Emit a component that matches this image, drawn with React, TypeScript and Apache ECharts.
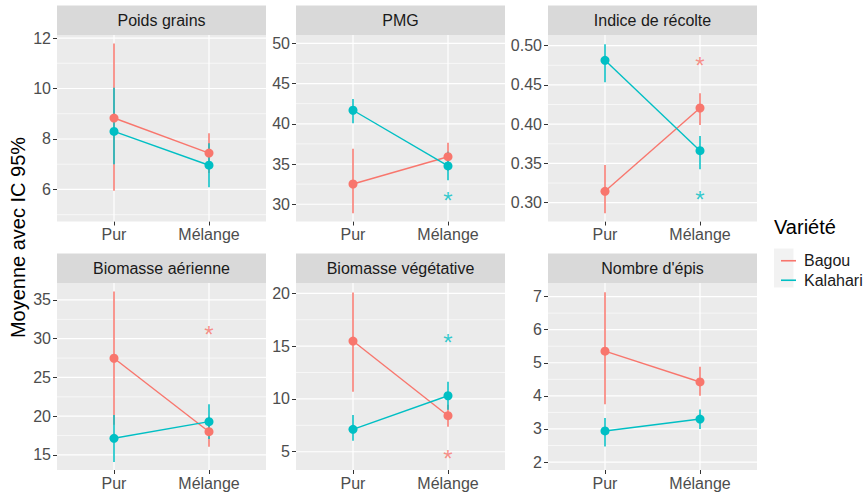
import React, { useEffect, useRef } from 'react';
import * as echarts from 'echarts';

// ---------- data ----------
const panelTitles = ['Poids grains', 'PMG', 'Indice de récolte', 'Biomasse aérienne', 'Biomasse végétative', "Nombre d'épis"];
const categories = ['Pur', 'Mélange'];
const varieties = ['Bagou', 'Kalahari'];
const varietyColors = ['#F8766D', '#00BFC4'];

// means [panel][category]
const bagouMean = [[8.83, 7.44], [32.52, 35.91], [0.3145, 0.4206], [27.48, 18.0], [15.48, 8.41], [5.35, 4.42]];
const bagouLow = [[5.95, 6.65], [28.88, 34.17], [0.2865, 0.399], [18.9, 16.07], [10.69, 7.37], [3.75, 4.0]];
const bagouHigh = [[11.78, 8.23], [36.9, 37.65], [0.348, 0.4394], [36.08, 19.93], [20.07, 9.45], [7.13, 4.88]];
const kalahariMean = [[8.3, 6.96], [41.68, 34.76], [0.4814, 0.3662], [17.15, 19.3], [7.12, 10.3], [2.94, 3.3]];
const kalahariLow = [[7.0, 6.09], [40.06, 33.0], [0.4534, 0.3425], [14.1, 17.06], [6.04, 8.97], [2.47, 3.0]];
const kalahariHigh = [[10.03, 7.83], [43.08, 36.52], [0.5018, 0.385], [20.16, 21.54], [8.47, 11.63], [3.33, 3.59]];

// significance stars
const starPanel = [1, 2, 2, 3, 4, 4];
const starVariety = ['Kalahari', 'Bagou', 'Kalahari', 'Bagou', 'Kalahari', 'Bagou'];
const starCategory = ['Mélange', 'Mélange', 'Mélange', 'Mélange', 'Mélange', 'Mélange'];
const starValue = [30.82, 0.479, 0.3076, 30.9, 15.64, 4.69];

// axes
const yMin = [4.73, 27.86, 0.276, 13.06, 3.27, 1.76];
const yMax = [12.12, 51.03, 0.5136, 37.19, 20.98, 7.41];
const yTicks = [
  [6, 8, 10, 12],
  [30, 35, 40, 45, 50],
  [0.3, 0.35, 0.4, 0.45, 0.5],
  [15, 20, 25, 30, 35],
  [5, 10, 15, 20],
  [2, 3, 4, 5, 6, 7],
];
const yTickDecimals = [0, 0, 2, 0, 0, 0];
const xMin = 0.4;
const xMax = 2.6;

const legendTitle = 'Variété';
const yTitle = 'Moyenne avec IC 95%';

// ---------- layout ----------
const FONT = '"Liberation Sans", Arial, Helvetica, sans-serif';
const panelLefts = [57, 296, 548];
const panelTops = [35, 283];
const panelHeights = [186.5, 187];
const panelWidth = 209;
const stripH = 29.5;

const means = [bagouMean, kalahariMean];
const lows = [bagouLow, kalahariLow];
const highs = [bagouHigh, kalahariHigh];

function minorTicks(ticks: number[], min: number, max: number) {
  const out: number[] = [];
  const step = ticks[1] - ticks[0];
  if (ticks[0] - step / 2 >= min) out.push(ticks[0] - step / 2);
  for (let k = 0; k < ticks.length - 1; k++) out.push((ticks[k] + ticks[k + 1]) / 2);
  if (ticks[ticks.length - 1] + step / 2 <= max) out.push(ticks[ticks.length - 1] + step / 2);
  return out;
}

function hLine(width: number) {
  return (params: any, api: any) => {
    const cs = params.coordSys;
    const y = api.coord([1, api.value(0)])[1];
    return {
      type: 'line',
      silent: true,
      shape: { x1: cs.x, y1: y, x2: cs.x + cs.width, y2: y },
      style: { stroke: '#FFFFFF', lineWidth: width },
    };
  };
}

function vLine(width: number, yLo: number) {
  return (params: any, api: any) => {
    const cs = params.coordSys;
    const x = api.coord([api.value(0), yLo])[0];
    return {
      type: 'line',
      silent: true,
      shape: { x1: x, y1: cs.y, x2: x, y2: cs.y + cs.height },
      style: { stroke: '#FFFFFF', lineWidth: width },
    };
  };
}

function errBar(color: string) {
  return (params: any, api: any) => {
    const x = api.value(0);
    const a = api.coord([x, api.value(1)]);
    const b = api.coord([x, api.value(2)]);
    return {
      type: 'line',
      shape: { x1: a[0], y1: a[1], x2: b[0], y2: b[1] },
      style: { stroke: color, lineWidth: 1.5 },
    };
  };
}

function buildOption() {
  const grid: any[] = [];
  const xAxis: any[] = [];
  const yAxis: any[] = [];
  const series: any[] = [];
  const graphic: any[] = [];

  panelTitles.forEach((title, i) => {
    const col = i % 3;
    const row = Math.floor(i / 3);
    const left = panelLefts[col];
    const top = panelTops[row];
    grid.push({
      left, top, width: panelWidth, height: panelHeights[row],
      show: true, backgroundColor: '#EBEBEB', borderWidth: 0,
    });
    xAxis.push({
      type: 'value', gridIndex: i, min: xMin, max: xMax,
      axisLine: { show: false },
      splitLine: { show: false },
      axisTick: { show: true, length: 4, customValues: categories.map((_, k) => k + 1), lineStyle: { color: '#333333', width: 1 } },
      axisLabel: {
        customValues: categories.map((_, k) => k + 1),
        formatter: (v: number) => categories[Math.round(v) - 1] ?? '',
        color: '#4D4D4D', fontSize: 16, fontFamily: FONT, margin: 5,
      },
    });
    yAxis.push({
      type: 'value', gridIndex: i, min: yMin[i], max: yMax[i],
      axisLine: { show: false },
      splitLine: { show: false },
      axisTick: { show: true, length: 4, customValues: yTicks[i], lineStyle: { color: '#333333', width: 1 } },
      axisLabel: {
        customValues: yTicks[i],
        formatter: (v: number) => v.toFixed(yTickDecimals[i]),
        color: '#4D4D4D', fontSize: 16, fontFamily: FONT, margin: 6,
      },
    });

    // grid lines
    series.push({
      type: 'custom', xAxisIndex: i, yAxisIndex: i, silent: true, z: 1,
      data: minorTicks(yTicks[i], yMin[i], yMax[i]).map((v) => [v]),
      renderItem: hLine(0.6),
    });
    series.push({
      type: 'custom', xAxisIndex: i, yAxisIndex: i, silent: true, z: 1,
      data: yTicks[i].map((v) => [v]),
      renderItem: hLine(1.2),
    });
    series.push({
      type: 'custom', xAxisIndex: i, yAxisIndex: i, silent: true, z: 1,
      data: categories.map((_, k) => [k + 1]),
      renderItem: vLine(1.2, yMin[i]),
    });

    // error bars
    varieties.forEach((v, vi) => {
      series.push({
        type: 'custom', name: v + ' IC', xAxisIndex: i, yAxisIndex: i, z: 2,
        data: categories.map((_, k) => [k + 1, lows[vi][i][k], highs[vi][i][k]]),
        renderItem: errBar(varietyColors[vi]),
      });
    });
    // lines
    varieties.forEach((v, vi) => {
      series.push({
        type: 'line', name: v, xAxisIndex: i, yAxisIndex: i, z: 3,
        color: varietyColors[vi],
        showSymbol: false, symbol: 'none',
        lineStyle: { color: varietyColors[vi], width: 1.4 },
        data: categories.map((_, k) => [k + 1, means[vi][i][k]]),
      });
    });
    // points
    varieties.forEach((v, vi) => {
      series.push({
        type: 'scatter', name: v + ' moyenne', xAxisIndex: i, yAxisIndex: i, z: 4,
        symbol: 'circle', symbolSize: 9,
        itemStyle: { color: varietyColors[vi], opacity: 1 },
        data: categories.map((_, k) => [k + 1, means[vi][i][k]]),
      });
    });
    // stars
    const starIdx = starPanel.map((p, s) => (p === i ? s : -1)).filter((s) => s >= 0);
    starIdx.forEach((s) => {
      const vi = varieties.indexOf(starVariety[s]);
      series.push({
        type: 'scatter', name: 'signif', xAxisIndex: i, yAxisIndex: i, z: 4,
        symbol: 'circle', symbolSize: 1,
        itemStyle: { color: 'rgba(0,0,0,0)' },
        label: {
          show: true, position: 'inside', formatter: '*',
          fontSize: 24, fontFamily: FONT, color: varietyColors[vi], offset: [0, 3],
        },
        data: [[categories.indexOf(starCategory[s]) + 1, starValue[s]]],
      });
    });

    // strip
    graphic.push({
      type: 'rect', silent: true, z: 1,
      shape: { x: left, y: top - stripH, width: panelWidth, height: stripH },
      style: { fill: '#D9D9D9' },
    });
    graphic.push({
      type: 'text', silent: true, z: 2,
      x: left + panelWidth / 2, y: top - stripH / 2,
      style: { text: title, fill: '#1A1A1A', font: `16px ${FONT}`, align: 'center', verticalAlign: 'middle' },
    });
  });

  // y axis title
  graphic.push({
    type: 'text', silent: true, z: 2,
    x: 18, y: 237.5, rotation: Math.PI / 2,
    style: { text: yTitle, fill: '#000000', font: `20px ${FONT}`, align: 'center', verticalAlign: 'middle' },
  });
  // legend title
  graphic.push({
    type: 'text', silent: true, z: 2,
    x: 774, y: 227,
    style: { text: legendTitle, fill: '#000000', font: `20px ${FONT}`, align: 'left', verticalAlign: 'middle' },
  });
  // legend key background
  graphic.push({
    type: 'rect', silent: true, z: 0,
    shape: { x: 774, y: 248.5, width: 19.5, height: 39 },
    style: { fill: '#F2F2F2' },
  });

  return {
    animation: false,
    backgroundColor: '#FFFFFF',
    grid, xAxis, yAxis, series, graphic,
    legend: {
      show: true, orient: 'vertical', left: 776, top: 246, z: 5,
      itemWidth: 15, itemHeight: 1.6, itemGap: 0, selectedMode: false,
      data: varieties.map((v) => ({ name: v, icon: 'rect' })),
      textStyle: { fontSize: 16, fontFamily: FONT, color: '#1A1A1A', lineHeight: 19.5, padding: [0, 0, 0, 3] },
    },
  };
}

export default function App() {
  const ref = useRef<HTMLDivElement>(null);
  useEffect(() => {
    const chart = echarts.init(ref.current!, null, { renderer: 'svg' });
    chart.setOption(buildOption() as any);
    return () => chart.dispose();
  }, []);
  return (
    <div
      ref={ref}
      style={{ position: 'fixed', left: 0, top: 0, width: 865, height: 494, background: '#FFFFFF' }}
    />
  );
}
